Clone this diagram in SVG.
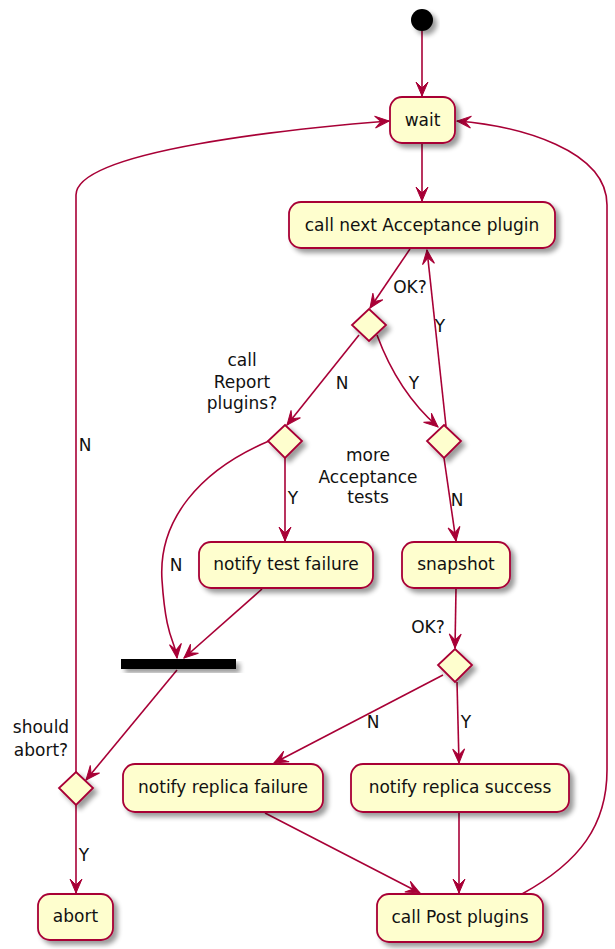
<svg xmlns="http://www.w3.org/2000/svg" width="615" height="949" viewBox="0 0 615 949">
<style>
.box{fill:#FEFECE;stroke:#A80036;stroke-width:1.8}
.dia{fill:#FEFECE;stroke:#A80036;stroke-width:1.8}
.t{font-family:"DejaVu Sans",sans-serif;font-size:17px;fill:#111;text-anchor:middle}
.l{font-family:"DejaVu Sans",sans-serif;font-size:17px;fill:#111;text-anchor:middle}
.c{fill:none;stroke:#A80036;stroke-width:1.6}
</style>
<defs>
<filter id="sh" x="-20%" y="-20%" width="150%" height="160%">
<feGaussianBlur in="SourceAlpha" stdDeviation="2.5"/>
<feOffset dx="4" dy="4" result="b"/>
<feComponentTransfer><feFuncA type="linear" slope="0.4"/></feComponentTransfer>
<feMerge><feMergeNode/><feMergeNode in="SourceGraphic"/></feMerge>
</filter>
<marker id="ah" markerUnits="userSpaceOnUse" markerWidth="18" markerHeight="16" viewBox="-15 -8 16 16" refX="0" refY="0" orient="auto">
<path d="M0,0 L-14,-6 L-8,0 L-14,6 Z" fill="#A80036" stroke="#A80036" stroke-width="1"/>
</marker>
</defs>

<g id="connectors">
<path class="c" marker-end="url(#ah)" d="M422,31 L422,96"/>
<path class="c" marker-end="url(#ah)" d="M422,144 L422,201"/>
<path class="c" marker-end="url(#ah)" d="M410,249 L370,308"/>
<path class="c" marker-end="url(#ah)" d="M359,335 L287,425"/>
<path class="c" marker-end="url(#ah)" d="M377,335 Q398,392 438,427"/>
<path class="c" marker-end="url(#ah)" d="M446,426 L427,250"/>
<path class="c" marker-end="url(#ah)" d="M444,458 L456,541"/>
<path class="c" marker-end="url(#ah)" d="M285,458 L285,541"/>
<path class="c" marker-end="url(#ah)" d="M269,441 C200,470 158,520 162,580 S175,640 177,658"/>
<path class="c" marker-end="url(#ah)" d="M262,589 L184,658"/>
<path class="c" marker-end="url(#ah)" d="M177,670 L86,780"/>
<path class="c" marker-end="url(#ah)" d="M76,772 L76,195 C76,150 300,128 389,121"/>
<path class="c" marker-end="url(#ah)" d="M76,805 L76,893"/>
<path class="c" marker-end="url(#ah)" d="M456,589 L455,648"/>
<path class="c" marker-end="url(#ah)" d="M443,675 L274,763"/>
<path class="c" marker-end="url(#ah)" d="M457,682 L459,763"/>
<path class="c" marker-end="url(#ah)" d="M265,813 L420,893"/>
<path class="c" marker-end="url(#ah)" d="M459,813 L459,893"/>
<path class="c" marker-end="url(#ah)" d="M522,894 C580,862 607,825 607,770 L607,205 C607,150 520,126 457,121"/>
<text class="l" x="410" y="293">OK?</text>
<text class="l" x="342" y="389">N</text>
<text class="l" x="414" y="389">Y</text>
<text class="l" x="440" y="332">Y</text>
<text class="l" x="457" y="506">N</text>
<text class="l" x="293" y="504">Y</text>
<text class="l" x="176" y="571">N</text>
<text class="l" x="85" y="451">N</text>
<text class="l" x="84" y="861">Y</text>
<text class="l" x="428" y="633">OK?</text>
<text class="l" x="373" y="728">N</text>
<text class="l" x="466" y="728">Y</text>
</g>

<g id="start"><circle cx="422" cy="20" r="11" fill="#000" filter="url(#sh)"/></g>
<g id="wait"><rect class="box" x="390" y="97" width="65" height="46" rx="12" filter="url(#sh)"/><text class="t" x="422.5" y="126">wait</text></g>
<g id="callnext"><rect class="box" x="289" y="202" width="266" height="46" rx="12" filter="url(#sh)"/><text class="t" x="422" y="231">call next Acceptance plugin</text></g>
<g id="d1"><polygon class="dia" points="369,309 386,325 369,341 352,325" filter="url(#sh)"/></g>
<g id="d2"><polygon class="dia" points="285,425 302,441 285,458 268,441" filter="url(#sh)"/><text class="t" x="242" y="366">call</text><text class="t" x="242" y="388">Report</text><text class="t" x="242" y="409">plugins?</text></g>
<g id="d3"><polygon class="dia" points="444,425 461,441 444,458 427,441" filter="url(#sh)"/><text class="t" x="368" y="461">more</text><text class="t" x="368" y="483">Acceptance</text><text class="t" x="368" y="503">tests</text></g>
<g id="testfail"><rect class="box" x="199" y="542" width="174" height="46" rx="12" filter="url(#sh)"/><text class="t" x="286" y="570">notify test failure</text></g>
<g id="snapshot"><rect class="box" x="402" y="542" width="108" height="46" rx="12" filter="url(#sh)"/><text class="t" x="456" y="570">snapshot</text></g>
<g id="bar"><rect x="121" y="659" width="115" height="10" fill="#000" filter="url(#sh)"/></g>
<g id="d5"><polygon class="dia" points="455,649 472,665 455,682 438,665" filter="url(#sh)"/></g>
<g id="d4"><polygon class="dia" points="76,772 93,788 76,805 59,788" filter="url(#sh)"/><text class="t" x="41" y="733">should</text><text class="t" x="41" y="756">abort?</text></g>
<g id="replfail"><rect class="box" x="123" y="764" width="200" height="48" rx="12" filter="url(#sh)"/><text class="t" x="223" y="793">notify replica failure</text></g>
<g id="replsucc"><rect class="box" x="351" y="764" width="218" height="48" rx="12" filter="url(#sh)"/><text class="t" x="460" y="793">notify replica success</text></g>
<g id="abort"><rect class="box" x="38" y="894" width="75" height="46" rx="12" filter="url(#sh)"/><text class="t" x="75.5" y="922">abort</text></g>
<g id="callpost"><rect class="box" x="377" y="894" width="166" height="48" rx="12" filter="url(#sh)"/><text class="t" x="460" y="923">call Post plugins</text></g>
</svg>
